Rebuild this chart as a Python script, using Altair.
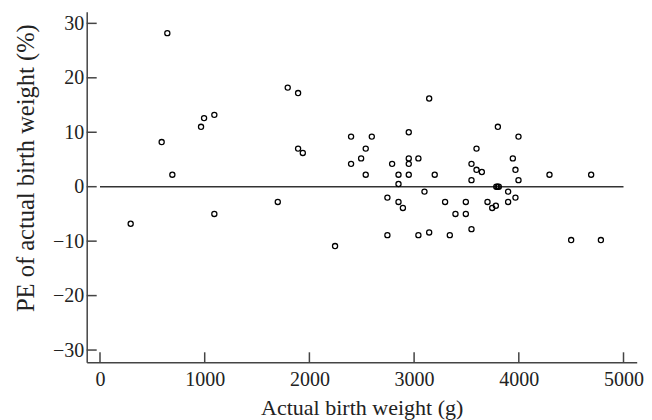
import altair as alt
import pandas as pd

# Data
birth_weight = [643, 589, 691, 293, 965, 994, 1092, 1092, 1698, 1793, 1892, 1892, 1937,
                2245, 2398, 2398, 2494, 2538, 2538, 2596, 2745, 2745, 2790, 2851, 2851,
                2851, 2893, 2949, 2949, 2949, 2949, 3041, 3041, 3099, 3144, 3144, 3197,
                3296, 3341, 3395, 3494, 3494, 3548, 3548, 3548, 3596, 3596, 3647, 3701,
                3746, 3781, 3785, 3797, 3809, 3800, 3898, 3898, 3943, 3968, 3968, 3997,
                3997, 4293, 4500, 4691, 4784]
pe = [28.2, 8.2, 2.2, -6.8, 11.0, 12.6, 13.2, -5.0, -2.8, 18.2, 17.2, 7.0, 6.2,
      -10.9, 9.2, 4.2, 5.2, 7.0, 2.2, 9.2, -2.0, -8.9, 4.2, 2.2, 0.5,
      -2.8, -3.9, 10.0, 5.2, 4.2, 2.2, 5.2, -8.9, -0.9, 16.2, -8.4, 2.2,
      -2.8, -8.9, -5.0, -2.8, -5.0, 4.2, 1.2, -7.8, 7.0, 3.1, 2.7, -2.8,
      -3.9, -3.5, 0.0, 0.0, 0.0, 11.0, -0.9, -2.8, 5.2, 3.1, -2.0, 9.2,
      1.2, 2.2, -9.8, 2.2, -9.8]

x_ticks = [0, 1000, 2000, 3000, 4000, 5000]
y_ticks = [-30, -20, -10, 0, 10, 20, 30]
ref_x = [0, 5000]
ref_y = [0]

W, H = 550, 350.6
FONT = "Liberation Serif"
AXIS_COLOR = "#444"
TEXT_COLOR = "#222"

pts = pd.DataFrame({"x": birth_weight, "y": pe})
xt = pd.DataFrame({"x": x_ticks})
yt = pd.DataFrame({"y": y_ticks})
ref = pd.DataFrame({"x": [ref_x[0]], "x2": [ref_x[1]], "y": ref_y})

xs = alt.Scale(domain=[-127, 5126], nice=False, zero=False)
ys = alt.Scale(domain=[-32.25, 32.14], nice=False, zero=False)

xaxis = alt.Axis(values=x_ticks, format="d", ticks=False, grid=False, domainColor=AXIS_COLOR,
                 domainWidth=1.5, labelFont=FONT, labelFontSize=20, labelColor=TEXT_COLOR,
                 labelPadding=7, labelFlush=False, titleFont=FONT, titleFontSize=22,
                 titleFontWeight="normal", titleColor=TEXT_COLOR,
                 titleBaseline="alphabetic", titleY=52.5)
yaxis = alt.Axis(values=y_ticks, format="d", ticks=False, grid=False, domainColor=AXIS_COLOR,
                 domainWidth=1.5, labelFont=FONT, labelFontSize=20, labelColor=TEXT_COLOR,
                 labelPadding=3, labelFlush=False, titleFont=FONT, titleFontSize=24.5,
                 titleFontWeight="normal", titleColor=TEXT_COLOR,
                 titleBaseline="alphabetic", titleX=-53.5, titleY=156)

XT = "Actual birth weight (g)"
YT = "PE of actual birth weight (%)"

def X(field="x"):
    return alt.X(f"{field}:Q", scale=xs, axis=xaxis, title=XT)

def Y(field="y"):
    return alt.Y(f"{field}:Q", scale=ys, axis=yaxis, title=YT)

zero_line = alt.Chart(ref).mark_rule(color="#333", strokeWidth=1.5).encode(
    x=X(), x2="x2:Q", y=Y())

points = alt.Chart(pts).mark_point(shape="circle", filled=False, size=26,
                                   color="black", strokeWidth=1.3, opacity=1).encode(
    x=X(), y=Y())

xtick_marks = alt.Chart(xt).mark_rule(color=AXIS_COLOR, strokeWidth=1.5).encode(
    x=X(), y=alt.value(H), y2=alt.value(H - 10))

ytick_marks = alt.Chart(yt).mark_rule(color=AXIS_COLOR, strokeWidth=1.5).encode(
    y=Y(), x=alt.value(0), x2=alt.value(10))

chart = alt.layer(zero_line, xtick_marks, ytick_marks, points).properties(
    width=W, height=H,
    padding={"left": 86.7, "top": 11.7, "right": 15.3, "bottom": 57.7},
    autosize=alt.AutoSizeParams(type="none"),
    background="white",
).configure_view(stroke=None)

chart.save("out.html", embed_options={"renderer": "svg", "actions": False})
